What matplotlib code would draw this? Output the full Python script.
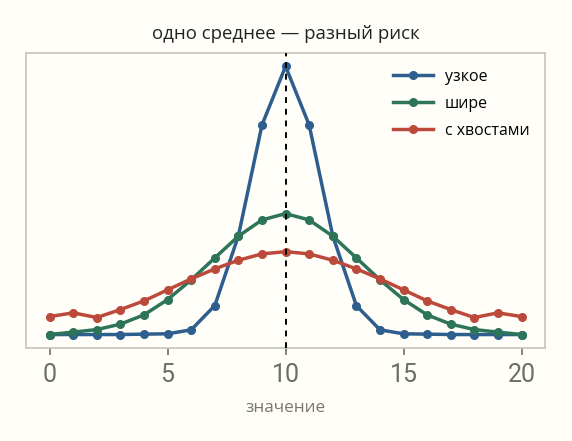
import matplotlib
matplotlib.use("Agg")
import matplotlib.pyplot as plt

x = list(range(21))
narrow = [0.000, 0.000, 0.000, 0.000, 0.0005, 0.0009, 0.0058, 0.0356, 0.1214, 0.2578, 0.330,
          0.2578, 0.1214, 0.0356, 0.0058, 0.0009, 0.0005, 0.000, 0.000, 0.000, 0.000]
wider = [0.000, 0.003, 0.0061, 0.0128, 0.0242, 0.043, 0.0673, 0.0943, 0.121, 0.141, 0.1488,
         0.141, 0.121, 0.0943, 0.0673, 0.043, 0.0242, 0.0128, 0.0061, 0.003, 0.000]
tails = [0.0221, 0.0267, 0.0209, 0.0307, 0.0414, 0.055, 0.0685, 0.0808, 0.0914, 0.0992, 0.1020,
         0.0992, 0.0914, 0.0808, 0.0685, 0.055, 0.0414, 0.0307, 0.0209, 0.0267, 0.0221]
labels = ["узкое", "шире", "с хвостами"]
colors = ["#2e5e8e", "#2e7459", "#bc4a3b"]
xticks = [0, 5, 10, 15, 20]
mean_value = 10

plt.rcParams['font.family'] = ['Open Sans', 'DejaVu Sans']

bg = "#fffef9"
fig = plt.figure(figsize=(5.72, 4.41), dpi=100, facecolor=bg)
ax = fig.add_axes([0.0455, 0.211, 0.9075, 0.669])
ax.set_facecolor(bg)

for ys, lab, c in zip([narrow, wider, tails], labels, colors):
    ax.plot(x, ys, color=c, lw=2.5, marker="o", ms=5.5, label=lab)

ax.axvline(mean_value, color="black", lw=1.4, ls=(0, (3, 3)), zorder=5)

ax.set_xticks(xticks)
ax.set_xticklabels([str(t) for t in xticks], fontfamily=['Roboto', 'DejaVu Sans'],
                   fontsize=18, color="#6e6e68")
ax.set_yticks([])
ax.tick_params(axis="x", length=5, width=1.2, color="#6e6e68", pad=6)
for s in ax.spines.values():
    s.set_color("#c8c8c0")
    s.set_linewidth(1.3)

ax.set_title("одно среднее — разный риск", fontsize=13.4, color="#222222", pad=10)
ax.set_xlabel("значение", fontsize=12.3, color="#77776f", labelpad=9)
leg = ax.legend(loc="upper right", frameon=False, prop={'size': 11.4}, handlelength=2.5,
                handletextpad=0.75, labelspacing=0.7, borderaxespad=0.6)

fig.savefig("out.png", dpi=100, facecolor=bg)
